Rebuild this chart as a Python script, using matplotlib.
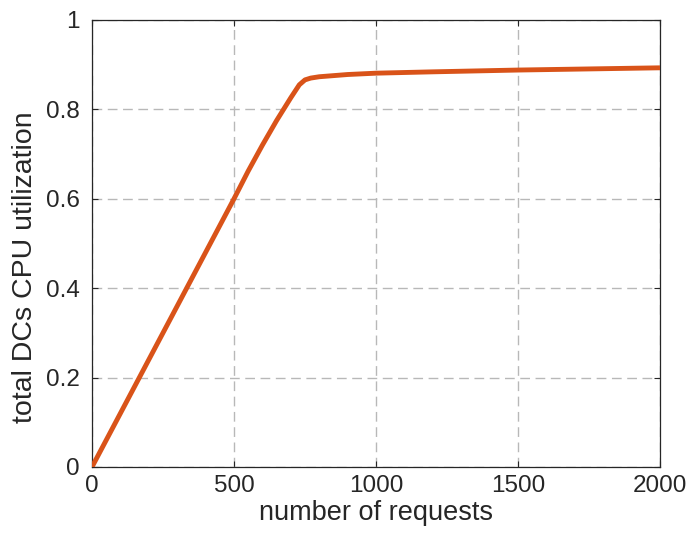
import matplotlib
matplotlib.use("Agg")
import matplotlib.pyplot as plt

# Total CPU utilization across data centers vs. number of requests
requests = [0, 100, 200, 300, 400, 500, 550, 600, 650, 700, 730, 750, 770, 800,
            900, 1000, 1200, 1500, 1800, 2000]
utilization = [0.0, 0.12, 0.24, 0.36, 0.48, 0.60, 0.662, 0.72, 0.775, 0.826,
               0.855, 0.866, 0.870, 0.873, 0.878, 0.881, 0.884, 0.888, 0.891,
               0.893]

x_ticks = [0, 500, 1000, 1500, 2000]
y_ticks = [0, 0.2, 0.4, 0.6, 0.8, 1]
y_tick_labels = ["0", "0.2", "0.4", "0.6", "0.8", "1"]

plt.rcParams["font.family"] = ["Liberation Sans", "DejaVu Sans"]
text_color = "#262626"

fig = plt.figure(figsize=(6.88, 5.40), dpi=100)
ax = fig.add_axes([0.1337, 0.1352, 0.8256, 0.8278])

ax.plot(requests, utilization, color="#D95319", linewidth=3.5,
        solid_capstyle="butt", solid_joinstyle="round", zorder=3)

ax.set_xlim(0, 2000)
ax.set_ylim(0, 1)
ax.set_xticks(x_ticks)
ax.set_yticks(y_ticks)
ax.set_yticklabels(y_tick_labels)

ax.grid(True, color="#b8b8b8", linestyle=(0, (7, 4)), linewidth=1.0)
ax.set_axisbelow(True)

ax.tick_params(direction="in", length=4, width=0.8, colors=text_color,
               labelsize=17.5, top=True, right=True)
ax.tick_params(axis="y", pad=9)
ax.tick_params(axis="x", pad=6)
for spine in ax.spines.values():
    spine.set_color(text_color)
    spine.set_linewidth(0.9)

ax.set_xlabel("number of requests", fontsize=19.5, color=text_color, labelpad=2)
ax.set_ylabel("total DCs CPU utilization", fontsize=20.5, color=text_color)
ax.yaxis.set_label_coords(-0.095, 0.448)

fig.savefig("out.png", dpi=100)
